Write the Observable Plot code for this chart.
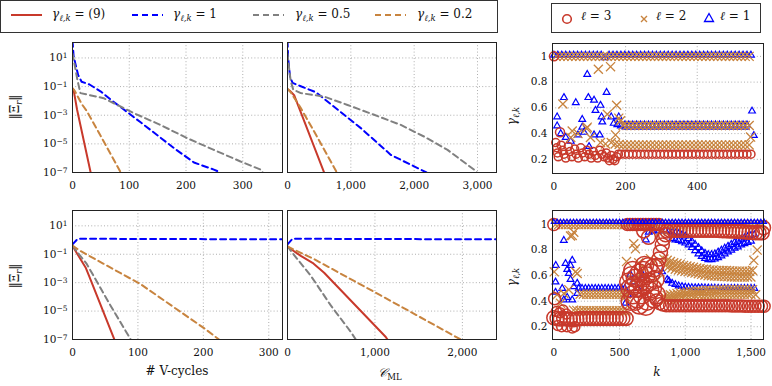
<!DOCTYPE html>
<html><head><meta charset="utf-8">
<script src="https://cdn.jsdelivr.net/npm/d3@7"></script>
<script src="https://cdn.jsdelivr.net/npm/@observablehq/plot@0.6"></script>
<style>
body{margin:0;background:#fff;}
#root{position:relative;width:772px;height:386px;overflow:hidden;font-family:'DejaVu Serif','Liberation Serif','Times New Roman',serif;color:#111;}
#root svg, #root svg text{font-family:'DejaVu Serif','Liberation Serif','Times New Roman',serif !important;}
.abs{position:absolute;white-space:nowrap;}
.lg{font-size:12px;}
sub{font-size:8.5px;vertical-align:-3px;}
</style></head>
<body><div id="root"></div>
<script>
// ---------- line panels: ||Xi_r|| vs # V-cycles (left) and vs C_ML (middle) ----------
const seriesNames = ["(9)", "1", "0.5", "0.2"];
// top row
const tlRedX = [0,2,8,32], tlRedY = [0.063,0.056,2.5e-3,1e-7];
const tlBlueX = [0,2,10,16,30,50,70,87,120,179,214,249,261];
const tlBlueY = [160,12.6,0.63,0.22,0.14,0.045,0.01,3.2e-3,3.2e-4,5e-6,5e-7,1.6e-7,1e-7];
const tlGrayX = [0,2,9,14,55,108,155,202,249,296,332,335];
const tlGrayY = [20,8,0.25,0.035,0.0155,1.4e-3,2.1e-4,2.5e-5,3.8e-6,5.9e-7,1.55e-7,1e-7];
const tlOrangeX = [0,4,16,25,49,85], tlOrangeY = [0.079,0.05,6.3e-3,2e-3,4e-5,1e-7];
const tmRedX = [0,40,105,578], tmRedY = [0.063,0.05,0.025,1e-7];
const tmBlueX = [0,10,40,80,200,450,578,1158,1632,2195];
const tmBlueY = [160,10,0.5,0.18,0.11,0.04,0.014,1.26e-4,1.7e-6,1e-7];
const tmGrayX = [0,20,50,90,210,578,948,1368,1790,2158,2527,2948,2990];
const tmGrayY = [20,3.2,0.25,0.063,0.035,0.02,5.2e-3,1.07e-3,2.1e-4,3.2e-5,3.8e-6,1.55e-7,1e-7];
const tmOrangeX = [0,50,210,421,779], tmOrangeY = [0.071,0.04,3.2e-3,7.2e-5,1e-7];
// bottom row
const blRedX = [0,20,25,64], blRedY = [0.38,0.0117,3.2e-3,1e-7];
const blBlueX = [0,8,321], blBlueY = [0.5,1.23,1.12];
const blGrayX = [0,10,22,58,89], blGrayY = [0.4,0.1,0.02,2.5e-5,1e-7];
const blOrangeX = [0,12,104,201,224], blOrangeY = [0.4,0.17,7.9e-4,6.3e-7,1e-7];
const bmRedX = [0,152,286,419,1124,1143], bmRedY = [0.34,0.076,0.025,5e-3,1.5e-7,1e-7];
const bmBlueX = [0,57,2390], bmBlueY = [0.5,1.23,1.12];
const bmGrayX = [0,38,266,495,723,781], bmGrayY = [0.38,0.17,3.1e-3,2.5e-5,3.5e-7,1e-7];
const bmOrangeX = [0,305,1066,1981], bmOrangeY = [0.35,0.045,1.26e-4,1e-7];

const logTicks = [10,0.1,1e-3,1e-5,1e-7];
const vTicks = [0,100,200,300];
const cTicksTop = [0,1000,2000,3000];
const cTicksBot = [0,1000,2000];

// ---------- scatter panels: gamma_{l,k} vs k ----------
const gTicks = [0.2,0.4,0.6,0.8,1];
const kTicksTop = [0,200,400];
const kTicksBot = [0,500,1000,1500];

// top right, l = 1 (triangles)
const t1Hi = [[0,1.01],[11,1.01],[22,1.01],[33,1.01],[44,1.01],[55,1.01],[66,1.01],[77,1.01],[88,1.01],[99,1.01],[110,1.01],[121,1.01],[132,1.01],[143,0.99],[154,1.01],[165,1.01],[176,1.01],[187,1.01],[198,1.01],[209,1.01],[220,1.01],[231,1.01],[242,1.01],[253,1.01],[264,1.01],[275,1.01],[286,1.01],[297,1.01],[308,1.01],[319,1.01],[330,1.01],[341,1.01],[352,1.01],[363,1.01],[374,1.01],[385,1.01],[396,1.01],[407,1.01],[418,1.01],[429,1.01],[440,1.01],[451,1.01],[462,1.01],[473,1.01],[484,1.01],[495,1.01],[506,1.01],[517,1.01],[528,1.01],[539,1.01],[550,1.01]];
const t1Mid = [[187,0.46],[198,0.468],[209,0.468],[220,0.468],[231,0.468],[242,0.468],[253,0.468],[264,0.468],[275,0.468],[286,0.468],[297,0.468],[308,0.468],[319,0.468],[330,0.468],[341,0.468],[352,0.468],[363,0.468],[374,0.468],[385,0.468],[396,0.468],[407,0.468],[418,0.468],[429,0.468],[440,0.468],[451,0.468],[462,0.468],[473,0.468],[484,0.468],[495,0.468],[506,0.468],[517,0.468],[528,0.468],[539,0.468]];
const t1Line = [[190,0.436],[545,0.436]];
const t1Scatter = [[9,0.53],[9,0.46],[19,0.40],[28,0.68],[33,0.37],[47,0.34],[61,0.64],[67,0.39],[79,0.51],[79,0.45],[84,0.41],[93,0.86],[96,0.68],[98,0.30],[112,0.66],[112,0.39],[116,0.58],[128,0.39],[130,0.62],[133,0.53],[135,0.49],[147,0.72],[160,0.53],[167,0.48],[177,0.47],[181,0.53],[553,0.575],[558,0.385]];
// top right, l = 2 (crosses)
const t2Hi = [[6,1],[17,1],[28,1],[39,1],[50,1],[61,1],[72,1],[83,1],[94,1],[105,1],[116,1],[127,1],[138,1],[149,1],[160,1],[171,1],[182,1],[193,1],[204,1],[215,1],[226,1],[237,1],[248,1],[259,1],[270,1],[281,1],[292,1],[303,1],[314,1],[325,1],[336,1],[347,1],[358,1],[369,1],[380,1],[391,1],[402,1],[413,1],[424,1],[435,1],[446,1],[457,1],[468,1],[479,1],[490,1],[501,1],[512,1],[523,1],[534,1],[545,1]];
const t2Mid = [[193,0.463],[204,0.463],[215,0.463],[226,0.463],[237,0.463],[248,0.463],[259,0.463],[270,0.463],[281,0.463],[292,0.463],[303,0.463],[314,0.463],[325,0.463],[336,0.463],[347,0.463],[358,0.463],[369,0.463],[380,0.463],[391,0.463],[402,0.463],[413,0.463],[424,0.463],[435,0.463],[446,0.463],[457,0.463],[468,0.463],[479,0.463],[490,0.463],[501,0.463],[512,0.463],[523,0.463],[534,0.463],[545,0.463]];
const t2Low = [[160,0.33],[171,0.32],[182,0.315],[193,0.312],[204,0.312],[215,0.312],[226,0.312],[237,0.312],[248,0.312],[259,0.312],[270,0.312],[281,0.312],[292,0.312],[303,0.312],[314,0.312],[325,0.312],[336,0.312],[347,0.312],[358,0.312],[369,0.312],[380,0.312],[391,0.312],[402,0.312],[413,0.312],[424,0.312],[435,0.312],[446,0.312],[457,0.312],[468,0.312],[479,0.312],[490,0.312],[501,0.312],[512,0.312],[523,0.312],[534,0.312],[545,0.312]];
const t2Scatter = [[25,0.63],[47,0.37],[51,0.42],[67,0.40],[91,0.44],[93,0.45],[102,0.37],[124,0.90],[130,0.33],[144,0.32],[149,0.55],[158,0.92],[172,0.39],[175,0.62],[181,0.52],[186,0.50],[549,0.373]];
// top right, l = 3 (circles)
const t3First = [[0,1.0],[17,0.41]];
const t3Early = [[5,0.33],[8,0.29],[10,0.25],[12,0.22],[20,0.31],[24,0.27],[28,0.24],[33,0.21],[40,0.30],[45,0.26],[50,0.22],[58,0.28],[62,0.24],[68,0.21],[75,0.29],[80,0.25],[86,0.22],[92,0.27],[98,0.24],[104,0.21],[110,0.26],[115,0.23],[122,0.21],[128,0.27],[134,0.24],[140,0.22],[146,0.25],[150,0.21],[155,0.19],[160,0.23],[165,0.20],[170,0.19],[175,0.22],[180,0.24]];
const t3Band = [[187,0.24],[198,0.24],[209,0.24],[220,0.24],[231,0.24],[242,0.24],[253,0.24],[264,0.24],[275,0.24],[286,0.24],[297,0.24],[308,0.24],[319,0.24],[330,0.24],[341,0.24],[352,0.24],[363,0.24],[374,0.24],[385,0.24],[396,0.24],[407,0.24],[418,0.24],[429,0.24],[440,0.24],[451,0.24],[462,0.24],[473,0.24],[484,0.24],[495,0.24],[506,0.24],[517,0.24],[528,0.24],[539,0.24],[550,0.24]];

// bottom right, l = 1 (triangles)
const b1Hi = [[0,1.02],[25,1.02],[50,1.02],[75,1.02],[100,1.02],[125,1.02],[150,1.02],[175,1.02],[200,1.02],[225,1.02],[250,1.02],[275,1.02],[300,1.02],[325,1.02],[350,1.02],[375,1.02],[400,1.02],[425,1.02],[450,1.02],[475,1.02],[500,1.02],[525,1.02],[550,1.02],[575,1.02],[600,1.02],[625,1.02],[650,1.02],[675,1.02],[700,1.02],[725,1.02],[750,1.02],[775,1.02],[800,1.02],[825,1.02],[850,1.02],[875,1.02],[900,1.02],[925,1.02],[950,1.02],[975,1.02],[1000,1.02],[1025,1.02],[1050,1.02],[1075,1.02],[1100,1.02],[1125,1.02],[1150,1.02],[1175,1.02],[1200,1.02],[1225,1.02],[1250,1.02],[1275,1.02],[1300,1.02],[1325,1.02],[1350,1.02],[1375,1.02],[1400,1.02],[1425,1.02],[1450,1.02],[1475,1.02],[1500,1.02],[1525,1.02],[1550,1.02],[1575,1.02],[1600,1.02]];
const b1Scatter = [[13,0.47],[13,0.55],[15,0.68],[64,0.50],[76,0.876],[76,0.41],[89,0.695],[102,0.648],[102,0.43],[114,0.617],[127,0.68],[127,0.57],[140,0.72],[140,0.41],[152,0.513],[178,0.54],[178,0.46],[545,0.384],[565,0.45],[583,0.61],[600,0.55],[640,0.50],[680,0.60],[700,0.88],[722,0.94],[750,0.95],[773,0.967],[800,0.95],[824,0.63],[862,0.57]];
const b1Mid = [[190,0.50],[215,0.50],[240,0.50],[265,0.50],[290,0.50],[315,0.50],[340,0.50],[365,0.50],[390,0.50],[415,0.50],[440,0.50],[465,0.50],[490,0.50],[515,0.50],[540,0.50]];
const b1Line = [[190,0.485],[545,0.485]];
const b1U1 = [[850,0.95],[875,0.945],[900,0.94],[925,0.935],[950,0.93],[975,0.92],[1000,0.91],[1025,0.89],[1050,0.87],[1075,0.845],[1100,0.82],[1125,0.795],[1150,0.775],[1175,0.765],[1200,0.765],[1225,0.77],[1250,0.785],[1275,0.80],[1300,0.815],[1325,0.83],[1350,0.845],[1375,0.86],[1400,0.87],[1425,0.885],[1450,0.895],[1475,0.905],[1500,0.915],[1525,0.92]];
const b1U2 = [[900,0.89],[925,0.88],[950,0.875],[975,0.865],[1000,0.855],[1025,0.84],[1050,0.82],[1075,0.795],[1100,0.77],[1125,0.75],[1150,0.735],[1175,0.725],[1200,0.725],[1225,0.73],[1250,0.74],[1275,0.755],[1300,0.77],[1325,0.785],[1350,0.80],[1375,0.815],[1400,0.825],[1425,0.84],[1450,0.85],[1475,0.86],[1500,0.87]];
const b1L = [[875,0.56],[900,0.54],[925,0.53],[950,0.52],[975,0.515],[1000,0.51],[1025,0.508],[1050,0.506],[1075,0.505],[1100,0.505],[1125,0.505],[1150,0.504],[1175,0.503],[1200,0.502],[1225,0.502],[1250,0.501],[1275,0.50],[1300,0.50],[1325,0.50],[1350,0.50],[1375,0.50],[1400,0.50],[1425,0.50],[1450,0.50],[1475,0.50],[1500,0.50],[1525,0.50]];
// bottom right, l = 2 (crosses)
const b2Hi = [[12,1],[37,1],[62,1],[87,1],[112,1],[137,1],[162,1],[187,1],[212,1],[237,1],[262,1],[287,1],[312,1],[337,1],[362,1],[387,1],[412,1],[437,1],[462,1],[487,1],[512,1],[537,1],[562,1],[587,1],[612,1],[637,1],[662,1],[687,1],[712,1],[737,1],[762,1],[787,1],[812,1],[837,1],[862,1],[887,1],[912,1],[937,1],[962,1],[987,1],[1012,1],[1037,1],[1062,1],[1087,1],[1112,1],[1137,1],[1162,1],[1187,1],[1212,1],[1237,1],[1262,1],[1287,1],[1312,1],[1337,1],[1362,1],[1387,1],[1412,1],[1437,1],[1462,1],[1487,1],[1512,1],[1537,1],[1562,1],[1587,1]];
const b2Early = [[3,0.63],[25,0.45],[51,0.384],[76,0.46],[114,0.49],[127,0.91],[140,0.915],[152,0.94],[165,0.63],[178,0.617]];
const b2Mid = [[200,0.455],[225,0.455],[250,0.455],[275,0.455],[300,0.455],[325,0.455],[350,0.455],[375,0.455],[400,0.455],[425,0.455],[450,0.455],[475,0.455],[500,0.455],[525,0.455],[550,0.455]];
const b2Low = [[150,0.33],[175,0.328],[200,0.325],[225,0.325],[250,0.325],[275,0.325],[300,0.325],[325,0.325],[350,0.325],[375,0.325],[400,0.325],[425,0.325],[450,0.325],[475,0.325],[500,0.325],[525,0.325],[550,0.325]];
const b2Cluster = [[545,0.435],[553,0.71],[600,0.565],[608,0.85],[621,0.81],[646,0.70],[660,0.62],[690,0.66],[710,0.58],[735,0.733],[760,0.70],[786,0.565],[811,0.95],[826,0.96]];
const b2A1 = [[837,0.73],[862,0.72],[887,0.71],[912,0.70],[937,0.695],[962,0.69],[987,0.68],[1012,0.675],[1037,0.67],[1062,0.665],[1087,0.66],[1112,0.655],[1137,0.65],[1162,0.65],[1187,0.645],[1212,0.645],[1237,0.64],[1262,0.64],[1287,0.64],[1312,0.64],[1337,0.638],[1362,0.636],[1387,0.635],[1412,0.635],[1437,0.635],[1462,0.635],[1487,0.635],[1512,0.64]];
const b2A2 = [[849,0.68],[874,0.67],[899,0.66],[924,0.65],[949,0.645],[974,0.64],[999,0.635],[1024,0.63],[1049,0.625],[1074,0.62],[1099,0.615],[1124,0.61],[1149,0.605],[1174,0.60],[1199,0.60],[1224,0.598],[1249,0.596],[1274,0.595],[1299,0.594],[1324,0.592],[1349,0.59],[1374,0.59],[1399,0.59],[1424,0.59],[1449,0.59],[1474,0.59],[1499,0.59]];
const b2C1 = [[837,0.44],[862,0.445],[887,0.45],[912,0.455],[937,0.46],[962,0.465],[987,0.47],[1012,0.47],[1037,0.475],[1062,0.475],[1087,0.48],[1112,0.48],[1137,0.48],[1162,0.485],[1187,0.485],[1212,0.485],[1237,0.485],[1262,0.49],[1287,0.49],[1312,0.49],[1337,0.49],[1362,0.49],[1387,0.49],[1412,0.49],[1437,0.49],[1462,0.49],[1487,0.49],[1512,0.49]];
const b2C2 = [[849,0.41],[874,0.415],[899,0.42],[924,0.425],[949,0.43],[974,0.435],[999,0.44],[1024,0.44],[1049,0.445],[1074,0.445],[1099,0.45],[1124,0.45],[1149,0.45],[1174,0.452],[1199,0.452],[1224,0.454],[1249,0.455],[1274,0.455],[1299,0.455],[1324,0.455],[1349,0.455],[1374,0.455],[1399,0.455],[1424,0.455],[1449,0.455],[1474,0.455],[1499,0.455]];
const b2End = [[1521,0.72],[1547,0.80],[1535,0.45]];
// bottom right, l = 3 (circles)
const b3First = [[0,1.0],[6,0.42]];
const b3Band = [[0,0.27],[25,0.265],[50,0.26],[75,0.265],[100,0.26],[125,0.26],[150,0.255],[175,0.26],[200,0.265],[225,0.265],[250,0.265],[275,0.265],[300,0.265],[325,0.265],[350,0.265],[375,0.265],[400,0.265],[425,0.265],[450,0.265],[475,0.265],[500,0.265],[525,0.265],[550,0.265]];
const b3Extra = [[20,0.32],[45,0.31],[70,0.33],[95,0.30],[30,0.21],[60,0.20],[100,0.20],[140,0.19],[160,0.20]];
const b3Top = [[560,1],[580,1],[600,1],[620,1],[640,1],[660,1],[680,1],[700,1],[720,1],[740,1],[760,1],[780,1],[800,1]];
const b3Cluster = [[570,0.55],[580,0.50],[590,0.60],[600,0.45],[610,0.52],[620,0.58],[630,0.42],[640,0.50],[650,0.62],[660,0.55],[670,0.45],[680,0.64],[690,0.52],[700,0.60],[710,0.40],[720,0.55],[730,0.48],[740,0.62],[750,0.50],[760,0.42],[770,0.57],[600,0.64],[620,0.40],[690,0.68],[720,0.67],[760,0.66],[780,0.45],[650,0.37],[700,0.36],[580,0.40]];
const b3Rise = [[684,0.95],[720,0.90],[786,0.68],[800,0.73],[811,0.785],[825,0.84],[836,0.89],[850,0.92]];
const b3Up = [[860,0.95],[885,0.955],[910,0.955],[935,0.955],[960,0.955],[985,0.955],[1010,0.955],[1035,0.955],[1060,0.955],[1085,0.955],[1110,0.955],[1135,0.955],[1160,0.955],[1185,0.955],[1210,0.955],[1235,0.955],[1260,0.953],[1285,0.952],[1310,0.951],[1335,0.95],[1360,0.95],[1385,0.948],[1410,0.946],[1435,0.944],[1460,0.942],[1485,0.94],[1510,0.938],[1535,0.936],[1560,0.935],[1585,0.935],[1595,0.975]];
const b3Low = [[780,0.41],[805,0.38],[830,0.37],[855,0.365],[880,0.365],[905,0.365],[930,0.365],[955,0.365],[980,0.365],[1005,0.365],[1030,0.365],[1055,0.365],[1080,0.365],[1105,0.365],[1130,0.365],[1155,0.365],[1180,0.365],[1205,0.365],[1230,0.365],[1255,0.365],[1280,0.365],[1305,0.365],[1330,0.365],[1355,0.363],[1380,0.363],[1405,0.362],[1430,0.362],[1455,0.361],[1480,0.361],[1505,0.36],[1530,0.36],[1555,0.36],[1580,0.36],[1600,0.36]];

// ---------- styling ----------
const FONT = "'DejaVu Serif','Liberation Serif','Times New Roman',serif";
const RED = "#c8392b", BLUE = "#0000ff", GRAY = "#808080", ORANGE = "#c8843f";
const root = document.getElementById("root");

const zipXY = (xs, ys) => xs.map((x, i) => ({x, y: ys[i]}));
const pts = arr => arr.map(([k, g]) => ({k, g}));
const gridStyle = {stroke: "#9a9a9a", strokeOpacity: 1, strokeWidth: 0.8, strokeDasharray: "1,2.2"};

function place(svg, left, top) {
  svg.style.position = "absolute";
  svg.style.left = left + "px";
  svg.style.top = top + "px";
  root.appendChild(svg);
}
function supTicks(svg) {
  svg.querySelectorAll('[aria-label="y-axis tick label"] text').forEach(t => {
    const s = t.textContent;
    if (!s.includes("^")) return;
    const [b, e] = s.split("^");
    t.textContent = b;
    const ts = document.createElementNS("http://www.w3.org/2000/svg", "tspan");
    ts.setAttribute("dy", "-0.45em");
    ts.setAttribute("font-size", "7.5");
    ts.textContent = e.replace("-", "\u2212");
    t.appendChild(ts);
  });
}

function linePanel({fx0, fy0, fx1, fy1, xDomain, xTicks, showY, lines}) {
  const mL = 45, mR = 5, mT = 5, mB = 25;
  const chart = Plot.plot({
    width: fx1 - fx0 + mL + mR, height: fy1 - fy0 + mT + mB,
    marginLeft: mL, marginRight: mR, marginTop: mT, marginBottom: mB,
    style: {background: "transparent", fontFamily: FONT, fontSize: "10.5px", color: "#111", overflow: "visible"},
    x: {domain: xDomain, ticks: xTicks, tickSize: 0, tickPadding: 9, tickFormat: d3.format(","), label: null},
    y: {type: "log", domain: [1e-7, 120], ticks: logTicks, tickSize: 0, tickPadding: 5, label: null,
        tickFormat: d => "10^" + Math.round(Math.log10(d)), axis: showY ? "left" : null},
    marks: [
      Plot.gridX(xTicks.filter(d => d > 0), gridStyle),
      Plot.gridY(logTicks.filter(d => d > 1e-7), gridStyle),
      ...lines.map(s => Plot.line(zipXY(s.x, s.y), {x: "x", y: "y", stroke: s.color, strokeWidth: 2,
        strokeDasharray: s.dash, clip: true})),
      Plot.frame({stroke: "#222", strokeWidth: 1})
    ]
  });
  supTicks(chart);
  place(chart, fx0 - mL, fy0 - mT);
}

function scatterPanel({fx0, fy0, fx1, fy1, xDomain, xTicks, yDomain, marks}) {
  const mL = 45, mR = 5, mT = 5, mB = 25;
  const chart = Plot.plot({
    width: fx1 - fx0 + mL + mR, height: fy1 - fy0 + mT + mB,
    marginLeft: mL, marginRight: mR, marginTop: mT, marginBottom: mB,
    style: {background: "transparent", fontFamily: FONT, fontSize: "10.5px", color: "#111", overflow: "visible"},
    x: {domain: xDomain, ticks: xTicks, tickSize: 0, tickPadding: 9, tickFormat: d3.format(","), label: null},
    y: {domain: yDomain, ticks: gTicks, tickSize: 0, tickPadding: 5, label: null, tickFormat: d => String(d)},
    marks: [
      Plot.gridX(xTicks.filter(d => d > 0), gridStyle),
      Plot.gridY(gTicks, gridStyle),
      ...marks,
      Plot.frame({stroke: "#222", strokeWidth: 1})
    ]
  });
  place(chart, fx0 - mL, fy0 - mT);
}

const tri = (arr, r = 2.5) => Plot.dot(pts(arr), {x: "k", y: "g", symbol: "triangle", r, stroke: BLUE, strokeWidth: 1.2, fill: "none"});
const crs = (arr, r = 4.2) => Plot.dot(pts(arr), {x: "k", y: "g", symbol: "times", r, stroke: ORANGE, strokeWidth: 1.3});
const cir = (arr, r = 4) => Plot.dot(pts(arr), {x: "k", y: "g", symbol: "circle", r, stroke: RED, strokeWidth: 1.5, fill: "none"});
const seg = (arr, color) => Plot.line(pts(arr), {x: "k", y: "g", stroke: color, strokeWidth: 1.5});

// ---------- panels ----------
linePanel({fx0: 72, fy0: 42, fx1: 282, fy1: 172, xDomain: [0, 370], xTicks: vTicks, showY: true, lines: [
  {x: tlRedX, y: tlRedY, color: RED}, {x: tlBlueX, y: tlBlueY, color: BLUE, dash: "6,4"},
  {x: tlGrayX, y: tlGrayY, color: GRAY, dash: "6,4"}, {x: tlOrangeX, y: tlOrangeY, color: ORANGE, dash: "6,4"}]});
linePanel({fx0: 287, fy0: 42, fx1: 496, fy1: 172, xDomain: [0, 3300], xTicks: cTicksTop, showY: false, lines: [
  {x: tmRedX, y: tmRedY, color: RED}, {x: tmBlueX, y: tmBlueY, color: BLUE, dash: "6,4"},
  {x: tmGrayX, y: tmGrayY, color: GRAY, dash: "6,4"}, {x: tmOrangeX, y: tmOrangeY, color: ORANGE, dash: "6,4"}]});
linePanel({fx0: 72, fy0: 210, fx1: 282, fy1: 339, xDomain: [0, 321], xTicks: vTicks, showY: true, lines: [
  {x: blRedX, y: blRedY, color: RED}, {x: blBlueX, y: blBlueY, color: BLUE, dash: "6,4"},
  {x: blGrayX, y: blGrayY, color: GRAY, dash: "6,4"}, {x: blOrangeX, y: blOrangeY, color: ORANGE, dash: "6,4"}]});
linePanel({fx0: 287, fy0: 210, fx1: 496, fy1: 339, xDomain: [0, 2390], xTicks: cTicksBot, showY: false, lines: [
  {x: bmRedX, y: bmRedY, color: RED}, {x: bmBlueX, y: bmBlueY, color: BLUE, dash: "6,4"},
  {x: bmGrayX, y: bmGrayY, color: GRAY, dash: "6,4"}, {x: bmOrangeX, y: bmOrangeY, color: ORANGE, dash: "6,4"}]});

scatterPanel({fx0: 552, fy0: 43, fx1: 763, fy1: 173, xDomain: [-4, 585], xTicks: kTicksTop, yDomain: [0.09, 1.10], marks: [
  seg(t1Line, BLUE), tri(t1Hi), tri(t1Mid), tri(t1Scatter),
  crs(t2Hi), crs(t2Mid), crs(t2Low), crs(t2Scatter),
  cir(t3Early, 4), cir(t3Band, 4), cir(t3First, 4.5)]});
scatterPanel({fx0: 552, fy0: 210, fx1: 763, fy1: 339, xDomain: [-10, 1595], xTicks: kTicksBot, yDomain: [0.1, 1.11], marks: [
  seg(b1Line, BLUE), tri(b1Mid), tri(b1Scatter), tri(b1U1), tri(b1U2), tri(b1L),
  crs(b2Hi), crs(b2Early), crs(b2Mid), crs(b2Low), crs(b2Cluster), crs(b2A1), crs(b2A2), crs(b2C1), crs(b2C2), crs(b2End),
  cir(b3Band, 7), cir(b3Extra, 5), cir(b3First, 6), cir(b3Top, 6), cir(b3Cluster, 9), cir(b3Rise, 7), cir(b3Up, 7), cir(b3Low, 6),
  tri(b1Hi, 1.8)]});

// ---------- legends & labels ----------
function html(h) { const d = document.createElement("div"); d.innerHTML = h; while (d.firstChild) root.appendChild(d.firstChild); }
const gl = '<i>γ</i><sub><i>ℓ,k</i></sub>';
html(`<div class="abs" style="left:0;top:0;width:496px;height:31px;border:1px solid #333;background:#fff"></div>`);
const lineLegend = [[11, 52, RED, "", seriesNames[0]], [132, 173, BLUE, "6,4", seriesNames[1]], [253, 295, GRAY, "6,4", seriesNames[2]], [375, 417, ORANGE, "6,4", seriesNames[3]]];
lineLegend.forEach(([lx, tx, c, dash, name]) => {
  html(`<svg class="abs" style="left:${lx}px;top:11px" width="32" height="8"><line x1="0" y1="4" x2="31" y2="4" stroke="${c}" stroke-width="2" stroke-dasharray="${dash}"/></svg>`);
  html(`<div class="abs lg" style="left:${tx}px;top:7px">${gl} = ${name}</div>`);
});
html(`<div class="abs" style="left:551px;top:3px;width:208px;height:28px;border:1px solid #333;background:#fff"></div>`);
html(`<svg class="abs" style="left:560px;top:12px" width="14" height="14"><circle cx="7" cy="7" r="4.3" fill="none" stroke="${RED}" stroke-width="1.6"/></svg>`);
html(`<div class="abs lg" style="left:581px;top:9px"><i>ℓ</i> = 3</div>`);
html(`<svg class="abs" style="left:637px;top:12px" width="14" height="14"><path d="M4,4L10,10M10,4L4,10" stroke="${ORANGE}" stroke-width="1.4"/></svg>`);
html(`<div class="abs lg" style="left:656px;top:9px"><i>ℓ</i> = 2</div>`);
html(`<svg class="abs" style="left:702px;top:11px" width="14" height="14"><path d="M7,2.5L11.5,10.5L2.5,10.5Z" fill="none" stroke="${BLUE}" stroke-width="1.3"/></svg>`);
html(`<div class="abs lg" style="left:720px;top:9px"><i>ℓ</i> = 1</div>`);

const rot = (x, y, content) => html(`<div class="abs lg" style="left:${x}px;top:${y}px;transform:translate(-50%,-50%) rotate(-90deg)">${content}</div>`);
const xi = '‖Ξ<sub><i>r</i></sub>‖';
rot(16, 107, xi); rot(16, 276, xi);
rot(513, 116, gl); rot(513, 277, gl);
html(`<div class="abs lg" style="left:177px;top:371px;transform:translate(-50%,-50%)"># V-cycles</div>`);
html(`<div class="abs lg" style="left:390px;top:374px;transform:translate(-50%,-50%)"><i>𝒞</i><sub>ML</sub></div>`);
html(`<div class="abs lg" style="left:657px;top:372px;transform:translate(-50%,-50%)"><i>k</i></div>`);
</script></body></html>
